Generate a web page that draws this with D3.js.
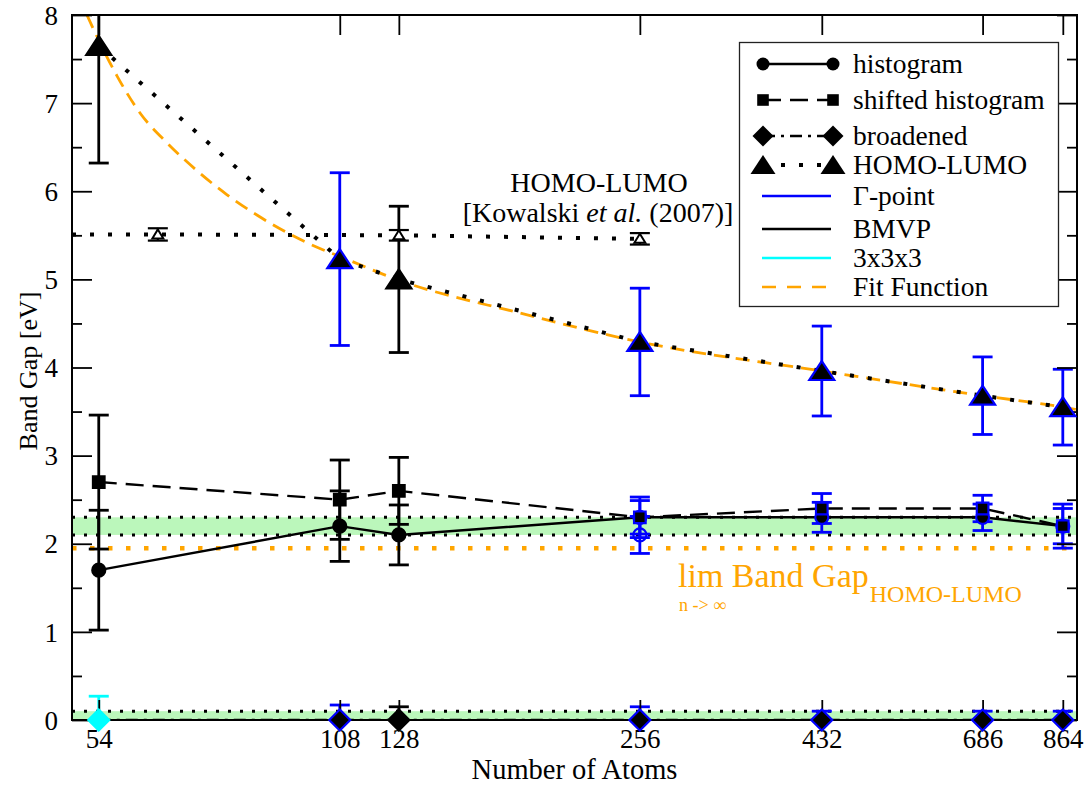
<!DOCTYPE html>
<html>
<head>
<meta charset="utf-8">
<script src="https://cdn.jsdelivr.net/npm/d3@7"></script>
<style>
  body { margin: 0; background: #fff; }
  text { font-family: "Liberation Serif", "Times New Roman", Times, serif; fill: #000; }
</style>
</head>
<body>
<svg id="chart" width="1091" height="787"></svg>
<script>
// ---- data ----
const atoms = [54, 108, 128, 256, 432, 686, 864];
const atomTickLabels = ["54", "108", "128", "256", "432", "686", "864"];
const gapTicks = [0, 1, 2, 3, 4, 5, 6, 7, 8];
const gapMinorTicks = [0.5, 1.5, 2.5, 3.5, 4.5, 5.5, 6.5, 7.5];

// band gap estimators (eV) with error bars and the k-point method per system size
const histogram       = [1.70, 2.20, 2.10, 2.30, 2.30, 2.30, 2.20];
const histogramErr    = [0.68, 0.40, 0.34, 0.19, 0.17, 0.15, 0.20];
const histogramMethod = ["BMVP", "BMVP", "BMVP", "Γ-point", "Γ-point", "Γ-point", "Γ-point"];

const histogramExtraAtoms = [256];
const histogramExtra      = [2.10];
const histogramExtraErr   = [0.21];

const shifted       = [2.70, 2.50, 2.60, 2.30, 2.40, 2.40, 2.20];
const shiftedErr    = [0.76, 0.45, 0.38, 0.23, 0.17, 0.15, 0.25];
const shiftedMethod = ["BMVP", "BMVP", "BMVP", "Γ-point", "Γ-point", "Γ-point", "Γ-point"];

const broadened       = [0, 0, 0, 0, 0, 0, 0];
const broadenedErr    = [0.27, 0.17, 0.15, 0.15, 0.10, 0.10, 0.10];
const broadenedMethod = ["3x3x3", "Γ-point", "BMVP", "Γ-point", "Γ-point", "Γ-point", "Γ-point"];

const homoLumo       = [7.65, 5.23, 5.00, 4.29, 3.96, 3.68, 3.55];
const homoLumoErr    = [1.33, 0.98, 0.83, 0.61, 0.51, 0.44, 0.43];
const homoLumoMethod = ["BMVP", "Γ-point", "BMVP", "Γ-point", "Γ-point", "Γ-point", "Γ-point"];

// HOMO-LUMO reference values, Kowalski et al. (2007)
const kowalskiAtoms = [64, 128, 256];
const kowalskiGap   = [5.51, 5.50, 5.46];
const kowalskiErr   = [0.07, 0.06, 0.065];

// fit function of the HOMO-LUMO gap
const fitAtoms = [52.2, 53.5, 56.9, 60.9, 65.7, 71.7, 78.1, 85.1, 92.8, 102, 108, 128, 181, 256, 432, 686, 864, 900];
const fitGap   = [8.00, 7.79, 7.31, 6.88, 6.55, 6.23, 5.96, 5.73, 5.53, 5.35, 5.26, 4.99, 4.62, 4.29, 3.96, 3.68, 3.55, 3.52];
const limitGap = 1.95;

// shaded reference ranges
const gapBands = [[2.1, 2.3], [0, 0.1]];
const bandEdges = [2.1, 2.3, 0.1];

const methods = ["Γ-point", "BMVP", "3x3x3"];

// ---- layout ----
const plot = { left: 72, right: 1077, top: 15, bottom: 720 };
const BLUE = "#0000ff", CYAN = "#00ffff", ORANGE = "#ffa500", GREEN = "#bbf7bb";
const legendRowSteps = [36, 36, 29, 31, 33, 29, 29];

const methodColor = d3.scaleOrdinal().domain(methods).range([BLUE, "#000000", CYAN]);
const methodFill  = d3.scaleOrdinal().domain(methods).range(["#000000", "#000000", CYAN]);

const x = d3.scaleLog().domain([50, 900]).range([plot.left, plot.right]);
const y = d3.scaleLinear().domain([0, 8]).range([plot.bottom, plot.top]);

const svg = d3.select("#chart");
svg.append("defs").append("clipPath").attr("id", "plotClip")
  .append("rect")
  .attr("x", plot.left).attr("y", plot.top)
  .attr("width", plot.right - plot.left).attr("height", plot.bottom - plot.top);

const clipped = svg.append("g").attr("clip-path", "url(#plotClip)");

// marker shapes
const symbolPath = {
  circle: d3.symbol(d3.symbolCircle, Math.PI * 6.5 * 6.5)(),
  square: "M-5.8,-5.8H5.8V5.8H-5.8Z",
  diamond: "M0,-10.5L10.5,0L0,10.5L-10.5,0Z",
  triangle: "M0,-10L12.5,9L-12.5,9Z",
  smallTriangle: "M0,-5L5.5,4L-5.5,4Z"
};

const seriesStyle = {
  histogram: { symbol: "circle", dash: null },
  shifted:   { symbol: "square", dash: "18,9" },
  broadened: { symbol: "diamond", dash: "12,6,3,6" },
  homoLumo:  { symbol: "triangle", dash: "4,14" }
};

// ---- shaded ranges and reference lines ----
clipped.selectAll("rect.band").data(gapBands).join("rect")
  .attr("class", "band")
  .attr("x", plot.left).attr("width", plot.right - plot.left)
  .attr("y", d => y(d[1])).attr("height", d => y(d[0]) - y(d[1]))
  .attr("fill", GREEN);

clipped.selectAll("line.edge").data(bandEdges).join("line")
  .attr("class", "edge")
  .attr("x1", plot.left).attr("x2", plot.right)
  .attr("y1", d => y(d)).attr("y2", d => y(d))
  .attr("stroke", "#000").attr("stroke-width", 3).attr("stroke-dasharray", "3,9");

clipped.append("line")
  .attr("x1", plot.left).attr("x2", plot.right)
  .attr("y1", y(limitGap)).attr("y2", y(limitGap))
  .attr("stroke", ORANGE).attr("stroke-width", 4.5).attr("stroke-dasharray", "4.5,13.5");

// ---- fit function ----
const fitLine = d3.line().x(d => x(d[0])).y(d => y(d[1])).curve(d3.curveMonotoneX);
clipped.append("path")
  .datum(fitAtoms.map((n, i) => [n, fitGap[i]]))
  .attr("d", fitLine)
  .attr("fill", "none").attr("stroke", ORANGE).attr("stroke-width", 2.8)
  .attr("stroke-dasharray", "14,8");

// ---- Kowalski reference line ----
const straight = d3.line().x(d => x(d[0])).y(d => y(d[1]));
clipped.append("path")
  .datum([[x.domain()[0], kowalskiGap[0]]].concat(kowalskiAtoms.map((n, i) => [n, kowalskiGap[i]])))
  .attr("d", straight)
  .attr("fill", "none").attr("stroke", "#000").attr("stroke-width", 4)
  .attr("stroke-dasharray", "4,14");

// ---- estimator lines ----
const estimators = [
  { key: "broadened", values: broadened, err: broadenedErr, method: broadenedMethod },
  { key: "histogram", values: histogram, err: histogramErr, method: histogramMethod },
  { key: "shifted",   values: shifted,   err: shiftedErr,   method: shiftedMethod },
  { key: "homoLumo",  values: homoLumo,  err: homoLumoErr,  method: homoLumoMethod }
];

estimators.forEach(s => {
  clipped.append("path")
    .datum(atoms.map((n, i) => [n, s.values[i]]))
    .attr("d", straight)
    .attr("fill", "none").attr("stroke", "#000")
    .attr("stroke-width", s.key === "homoLumo" ? 4 : 2.4)
    .attr("stroke-dasharray", seriesStyle[s.key].dash);
});

// ---- error bars ----
function errorBars(g, pts, color, width, capHalf) {
  const eb = g.selectAll(null).data(pts).join("g");
  eb.append("line")
    .attr("x1", d => x(d.n)).attr("x2", d => x(d.n))
    .attr("y1", d => y(d.v - d.e)).attr("y2", d => y(d.v + d.e))
    .attr("stroke", d => color(d)).attr("stroke-width", width);
  [-1, 1].forEach(sgn => {
    eb.append("line")
      .attr("x1", d => x(d.n) - capHalf).attr("x2", d => x(d.n) + capHalf)
      .attr("y1", d => y(d.v + sgn * d.e)).attr("y2", d => y(d.v + sgn * d.e))
      .attr("stroke", d => color(d)).attr("stroke-width", width);
  });
}

const pointsOf = s => atoms.map((n, i) => ({ n, v: s.values[i], e: s.err[i], m: s.method[i], key: s.key }));

estimators.forEach(s => errorBars(clipped, pointsOf(s), d => methodColor(d.m), 2.8, 10));
errorBars(clipped, histogramExtraAtoms.map((n, i) => ({ n, v: histogramExtra[i], e: histogramExtraErr[i] })),
  () => BLUE, 2.8, 10);
errorBars(clipped, kowalskiAtoms.map((n, i) => ({ n, v: kowalskiGap[i], e: kowalskiErr[i] })),
  () => "#000", 2.2, 10);

// ---- markers ----
const markers = svg.append("g");
estimators.forEach(s => {
  markers.selectAll(null).data(pointsOf(s)).join("path")
    .attr("d", symbolPath[seriesStyle[s.key].symbol])
    .attr("transform", d => `translate(${x(d.n)},${y(d.v)})`)
    .attr("fill", d => methodFill(d.m))
    .attr("stroke", d => methodColor(d.m))
    .attr("stroke-width", 2.2);
});
markers.selectAll(null).data(histogramExtraAtoms.map((n, i) => ({ n, v: histogramExtra[i] }))).join("path")
  .attr("d", symbolPath.circle)
  .attr("transform", d => `translate(${x(d.n)},${y(d.v)})`)
  .attr("fill", "none").attr("stroke", BLUE).attr("stroke-width", 2.2);
markers.selectAll(null).data(kowalskiAtoms.map((n, i) => ({ n, v: kowalskiGap[i] }))).join("path")
  .attr("d", symbolPath.smallTriangle)
  .attr("transform", d => `translate(${x(d.n)},${y(d.v)})`)
  .attr("fill", "#fff").attr("stroke", "#000").attr("stroke-width", 2);

// ---- axes ----
const axes = svg.append("g");
const fontSize = 27;

axes.append("g").attr("transform", `translate(0,${plot.bottom})`)
  .call(d3.axisBottom(x).tickValues(atoms).tickFormat((d, i) => atomTickLabels[i])
    .tickSizeInner(-20).tickSizeOuter(0).tickPadding(9));
axes.append("g").attr("transform", `translate(0,${plot.top})`)
  .call(d3.axisTop(x).tickValues(atoms).tickFormat("").tickSizeInner(-20).tickSizeOuter(0));
const leftAxis = axes.append("g").attr("transform", `translate(${plot.left},0)`)
  .call(d3.axisLeft(y).tickValues(gapTicks).tickFormat(d3.format("d"))
    .tickSizeInner(-20).tickSizeOuter(0).tickPadding(14));
axes.append("g").attr("transform", `translate(${plot.right},0)`)
  .call(d3.axisRight(y).tickValues(gapTicks).tickFormat("").tickSizeInner(-20).tickSizeOuter(0));
axes.append("g").attr("transform", `translate(${plot.left},0)`)
  .call(d3.axisLeft(y).tickValues(gapMinorTicks).tickFormat("").tickSizeInner(-10).tickSizeOuter(0));
axes.append("g").attr("transform", `translate(${plot.right},0)`)
  .call(d3.axisRight(y).tickValues(gapMinorTicks).tickFormat("").tickSizeInner(-10).tickSizeOuter(0));

axes.selectAll(".domain").remove();
axes.selectAll(".tick line").attr("stroke", "#000").attr("stroke-width", 1.8);
axes.selectAll(".tick text")
  .style("font-family", '"Liberation Serif", "Times New Roman", serif')
  .attr("font-size", fontSize).attr("fill", "#000");
leftAxis.selectAll(".tick text").attr("dy", "0.34em");

axes.append("rect")
  .attr("x", plot.left).attr("y", plot.top)
  .attr("width", plot.right - plot.left).attr("height", plot.bottom - plot.top)
  .attr("fill", "none").attr("stroke", "#000").attr("stroke-width", 2);

// markers sit above the frame so edge markers overlap it
markers.raise();

// axis titles
svg.append("text")
  .attr("x", (plot.left + plot.right) / 2).attr("y", 779)
  .attr("text-anchor", "middle").attr("font-size", 28.5)
  .text("Number of Atoms");
svg.append("text")
  .attr("transform", `translate(37,371) rotate(-90)`)
  .attr("text-anchor", "middle").attr("font-size", 26)
  .text("Band Gap [eV]");

// ---- annotations ----
svg.append("text")
  .attr("x", 599).attr("y", 192).attr("text-anchor", "middle").attr("font-size", 28)
  .text("HOMO-LUMO");
const kw = svg.append("text")
  .attr("x", 598).attr("y", 222).attr("text-anchor", "middle").attr("font-size", 28);
kw.append("tspan").text("[Kowalski ");
kw.append("tspan").attr("font-style", "italic").text("et al.");
kw.append("tspan").text(" (2007)]");

const limText = svg.append("text").attr("x", 678).attr("y", 587).attr("font-size", 34)
  .style("fill", ORANGE).text("lim Band Gap");
const limEnd = 678 + limText.node().getComputedTextLength();
svg.append("text").attr("x", limEnd + 1).attr("y", 602).attr("font-size", 24)
  .style("fill", ORANGE).text("HOMO-LUMO");
svg.append("text").attr("x", 679).attr("y", 611).attr("font-size", 18)
  .style("fill", ORANGE).text("n -> ∞");

// ---- legend ----
const legendRows = [
  { label: "histogram",         kind: "series", key: "histogram" },
  { label: "shifted histogram", kind: "series", key: "shifted" },
  { label: "broadened",         kind: "series", key: "broadened" },
  { label: "HOMO-LUMO",         kind: "series", key: "homoLumo" },
  { label: "Γ-point",           kind: "method", key: "Γ-point" },
  { label: "BMVP",              kind: "method", key: "BMVP" },
  { label: "3x3x3",             kind: "method", key: "3x3x3" },
  { label: "Fit Function",      kind: "fit" }
];
const legend = svg.append("g");
legend.append("rect")
  .attr("x", 739.5).attr("y", 42.5).attr("width", 319).attr("height", 264)
  .attr("fill", "#fff").attr("stroke", "#222").attr("stroke-width", 1.3);

let rowY = 64;
legendRows.forEach((r, i) => {
  const g = legend.append("g").attr("transform", `translate(0,${rowY})`);
  if (r.kind === "series") {
    const st = seriesStyle[r.key];
    g.append("line").attr("x1", 763).attr("x2", 833)
      .attr("stroke", "#000").attr("stroke-width", r.key === "homoLumo" ? 4 : 2.4)
      .attr("stroke-dasharray", st.dash);
    [763, 833].forEach(cx => g.append("path").attr("d", symbolPath[st.symbol])
      .attr("transform", `translate(${cx},0)`).attr("fill", "#000"));
  } else if (r.kind === "method") {
    g.append("line").attr("x1", 762).attr("x2", 831)
      .attr("stroke", methodColor(r.key)).attr("stroke-width", 2.6);
  } else {
    g.append("line").attr("x1", 762).attr("x2", 826)
      .attr("stroke", ORANGE).attr("stroke-width", 2.6).attr("stroke-dasharray", "14,11");
  }
  g.append("text").attr("x", 853).attr("y", 0).attr("dy", "0.34em")
    .attr("font-size", 27.5).text(r.label);
  rowY += legendRowSteps[i] || 0;
});
</script>
</body>
</html>
